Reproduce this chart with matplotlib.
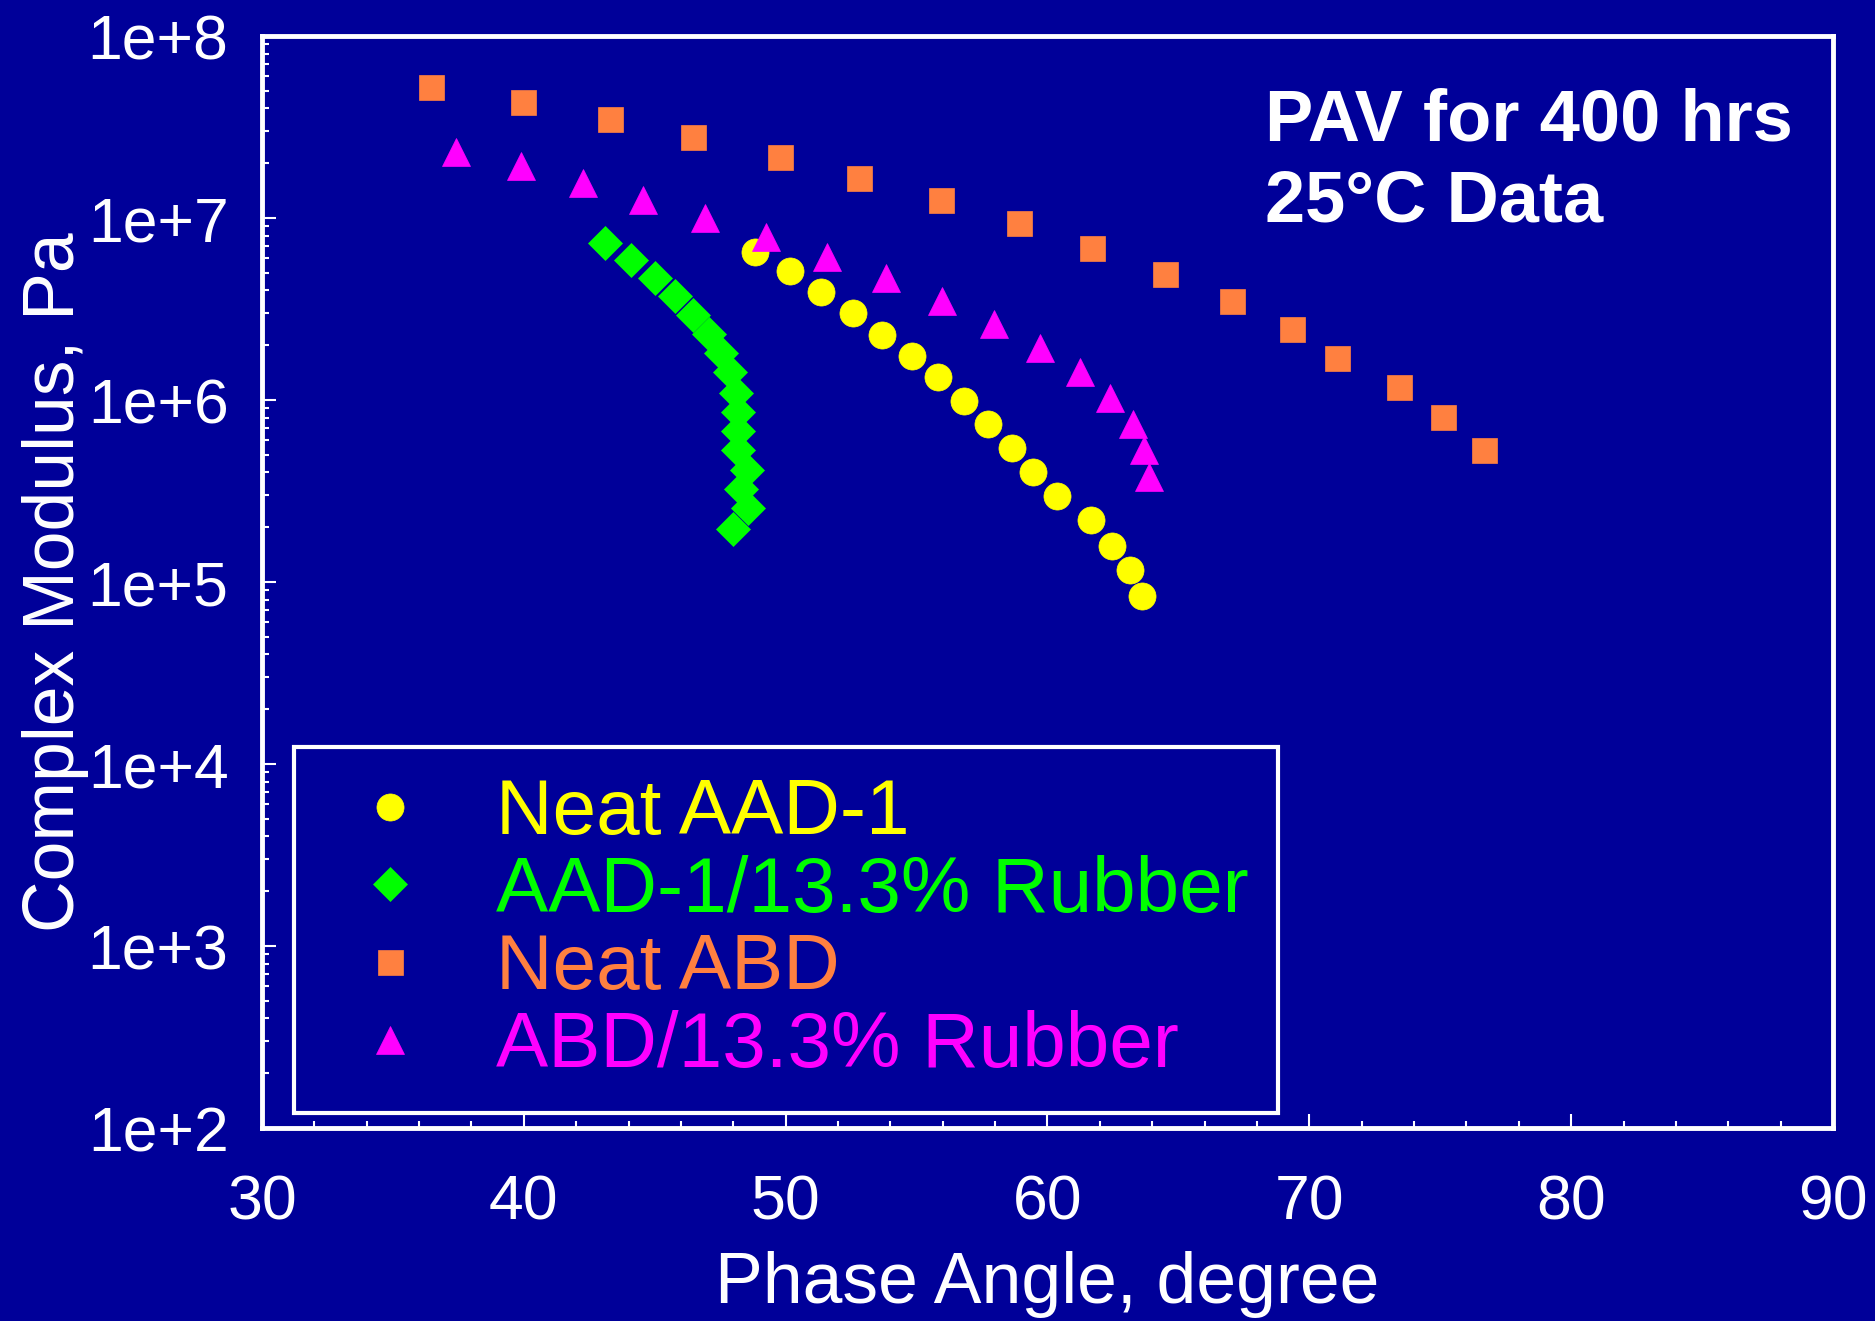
import math
import matplotlib
matplotlib.use("Agg")
import matplotlib.pyplot as plt
from matplotlib.ticker import MultipleLocator, LogLocator, FuncFormatter, NullFormatter

plt.rcParams['font.family'] = ['Liberation Sans', 'DejaVu Sans']

BG = '#000099'

# Phase angle (degree) and complex modulus (Pa), 25 C, PAV 400 hrs
aad_phase = [48.84, 50.16, 51.37, 52.57, 53.69, 54.81, 55.82, 56.83,
             57.74, 58.65, 59.46, 60.37, 61.68, 62.48, 63.15, 63.60]
aad_modulus = [6.48e6, 5.12e6, 3.92e6, 2.99e6, 2.28e6, 1.75e6, 1.34e6, 9.91e5,
               7.35e5, 5.43e5, 4.02e5, 2.98e5, 2.20e5, 1.58e5, 1.16e5, 8.41e4]

aadr_phase = [43.09, 44.09, 45.00, 45.78, 46.46, 47.06, 47.54, 47.86,
              48.10, 48.20, 48.20, 48.20, 48.53, 48.30, 48.58, 47.98]
aadr_modulus = [7.30e6, 5.86e6, 4.68e6, 3.72e6, 2.93e6, 2.31e6, 1.81e6, 1.42e6,
                1.10e6, 8.63e5, 6.76e5, 5.29e5, 4.13e5, 3.26e5, 2.55e5, 1.96e5]

abd_phase = [36.44, 39.97, 43.28, 46.47, 49.77, 52.80, 55.94, 58.93,
             61.69, 64.48, 67.04, 69.32, 71.06, 73.43, 75.09, 76.69]
abd_modulus = [5.27e7, 4.34e7, 3.50e7, 2.79e7, 2.17e7, 1.66e7, 1.26e7, 9.39e6,
               6.84e6, 4.94e6, 3.51e6, 2.47e6, 1.71e6, 1.18e6, 8.07e5, 5.34e5]

abdr_phase = [37.43, 39.89, 42.25, 44.56, 46.92, 49.25, 51.59, 53.84,
              55.97, 57.95, 59.73, 61.23, 62.38, 63.25, 63.67, 63.86]
abdr_modulus = [2.32e7, 1.93e7, 1.56e7, 1.26e7, 1.00e7, 7.87e6, 6.08e6, 4.66e6,
                3.52e6, 2.62e6, 1.94e6, 1.42e6, 1.02e6, 7.36e5, 5.30e5, 3.79e5]

series_labels = ['Neat AAD-1', 'AAD-1/13.3% Rubber', 'Neat ABD', 'ABD/13.3% Rubber']
series_colors = ['#FFFF00', '#00FF00', '#FF8040', '#FF00FF']
series_markers = ['o', 'D', 's', '^']
series_sizes = [19.5, 17.6, 18.0, 20.5]

fig = plt.figure(figsize=(18.75, 13.21), dpi=100, facecolor=BG)
ax = fig.add_axes([0.1397, 0.1461, 0.8379, 0.8266], facecolor=BG)

data = [(aad_phase, aad_modulus), (aadr_phase, aadr_modulus),
        (abd_phase, abd_modulus), (abdr_phase, abdr_modulus)]
for (x, y), lab, col, mk, ms in zip(data, series_labels, series_colors,
                                     series_markers, series_sizes):
    ax.plot(x, y, linestyle='none', marker=mk, markersize=ms,
            markerfacecolor=col, markeredgecolor=col, markeredgewidth=0.5,
            label=lab)

ax.set_xlim(30, 90)
ax.set_yscale('log')
ax.set_ylim(1e2, 1e8)

ax.xaxis.set_major_locator(MultipleLocator(10))
ax.xaxis.set_minor_locator(MultipleLocator(2))
ax.yaxis.set_major_locator(LogLocator(base=10, numticks=20))
ax.yaxis.set_minor_locator(LogLocator(base=10, subs=range(2, 10), numticks=20))
ax.yaxis.set_major_formatter(FuncFormatter(lambda v, p: f"1e+{int(round(math.log10(v)))}"))
ax.yaxis.set_minor_formatter(NullFormatter())

for side in ['left', 'right', 'top', 'bottom']:
    ax.spines[side].set_color('white')
    ax.spines[side].set_linewidth(3.5)

ax.tick_params(which='both', direction='in', colors='white', top=False, right=False)
ax.tick_params(which='major', length=10, width=1.5, labelsize=45)
ax.tick_params(axis='x', which='major', pad=33)
ax.tick_params(axis='y', which='major', pad=24)
ax.tick_params(which='minor', length=5, width=1.5)

ax.set_xlabel('Phase Angle, degree', fontsize=51.5, color='white')
ax.set_ylabel('Complex Modulus, Pa', fontsize=51.5, color='white')
ax.xaxis.set_label_coords(0.5, -0.1126)
ax.yaxis.set_label_coords(-0.110, 0.5)

ax.text(0.6386, 0.9048, 'PAV for 400 hrs', transform=ax.transAxes,
        fontsize=52, fontweight='bold', color='white', ha='left', va='baseline')
ax.text(0.6386, 0.8300, '25°C Data', transform=ax.transAxes,
        fontsize=52, fontweight='bold', color='white', ha='left', va='baseline')

leg = ax.legend(loc='lower left', bbox_to_anchor=(0.0204, 0.0140), borderaxespad=0,
                fontsize=56.3, frameon=True, fancybox=False, facecolor=BG,
                edgecolor='white', framealpha=1, borderpad=0.38, labelspacing=0.06,
                handlelength=1.70, handletextpad=0.50, numpoints=1,
                labelcolor=series_colors)
leg.get_frame().set_linewidth(3)

fig.savefig('out.png', dpi=100, facecolor=BG)
